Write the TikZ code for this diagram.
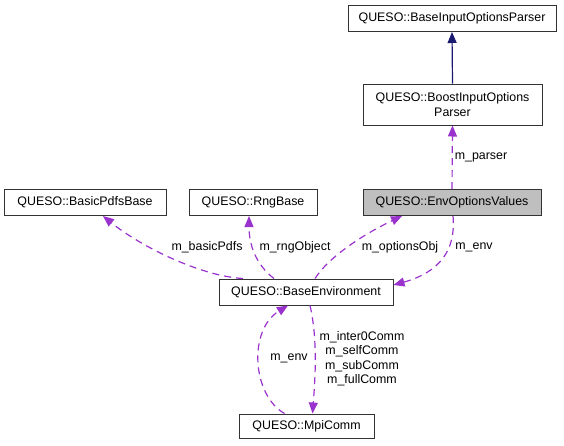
\documentclass[tikz,border=0pt]{standalone}
\usepackage{fontspec}
\setmainfont{Liberation Sans}
\usetikzlibrary{arrows.meta}
\definecolor{memb}{HTML}{9A32CD}
\definecolor{inher}{HTML}{191970}
\definecolor{cur}{HTML}{BFBFBF}

\begin{document}
\begin{tikzpicture}[x = 1pt, y = -1pt,
    every node/.style = {font = \fontsize{12.4}{14.5}\selectfont},
    cls/.style = {shape = rectangle, draw = black!80, line width = 1pt, fill = white,
        inner sep = 0pt, minimum height = 26pt},
    lbl/.style = {inner sep = 0pt, align = center},
    uses/.style = {draw = memb, line width = 1.2pt, dash pattern = on 7pt off 5pt,
        -{Triangle[length = 11pt, width = 9pt]}, memb},
    isa/.style = {draw = inher, line width = 1.2pt, -{Triangle[length = 11pt, width = 9pt]}}]
    \useasboundingbox (0,0) rectangle (564,445);
    % classes
    \node[cls, minimum width = 208pt] (baseparser) at (452,18.5) {QUESO::BaseInputOptionsParser};
    \node[cls, minimum width = 179pt, minimum height = 41pt, align = center]
        (boostparser) at (452.5,104.5) {QUESO::BoostInputOptions\\Parser};
    \node[cls, minimum width = 162pt] (pdfsbase) at (85,202.5) {QUESO::BasicPdfsBase};
    \node[cls, minimum width = 128pt] (rngbase) at (253,202.5) {QUESO::RngBase};
    \node[cls, minimum width = 178pt, fill = cur] (envvalues) at (452,202.5) {QUESO::EnvOptionsValues};
    \node[cls, minimum width = 174pt] (baseenv) at (306,292) {QUESO::BaseEnvironment};
    \node[cls, minimum width = 135pt, minimum height = 24pt] (mpicomm) at (306.5,426) {QUESO::MpiComm};
    % connectors
    \draw[isa] (boostparser.north) -- (baseparser.south);
    \draw[uses] (envvalues.north) -- (boostparser.south);
    \draw[uses] ([xshift = -63pt]baseenv.north) .. controls (200,276) and (140,246) .. ([xshift = 18pt]pdfsbase.south);
    \draw[uses] ([xshift = -32pt]baseenv.north) .. controls (260,268) and (249,250) .. ([xshift = -4pt]rngbase.south);
    \draw[uses] ([xshift = 9pt]baseenv.north) .. controls (330,255) and (368,232) .. ([xshift = -50pt]envvalues.south);
    \draw[uses] ([xshift = 1pt]envvalues.south) .. controls (456,250) and (440,272) .. ([yshift = 7pt]baseenv.east);
    \draw[uses] ([xshift = -22pt]mpicomm.north) .. controls (252,395) and (248,330) .. ([xshift = -18pt]baseenv.south);
    \draw[uses] ([xshift = 4pt]baseenv.south) .. controls (318,340) and (315,380) .. ([xshift = 6pt]mpicomm.north);
    % labels
    \node[lbl] (lparser) at (481,157) {m\_parser};
    \node[lbl] (lpdfs) at (207,247) {m\_basicPdfs};
    \node[lbl] (lrng) at (295,247) {m\_rngObject};
    \node[lbl] (lopts) at (400,247) {m\_optionsObj};
    \node[lbl] (lenv) at (474,247) {m\_env};
    \node[lbl] (lmpienv) at (289,358) {m\_env};
    \node[lbl] (lcomms) at (362,358.5) {m\_inter0Comm\\m\_selfComm\\m\_subComm\\m\_fullComm};
\end{tikzpicture}
\end{document}
